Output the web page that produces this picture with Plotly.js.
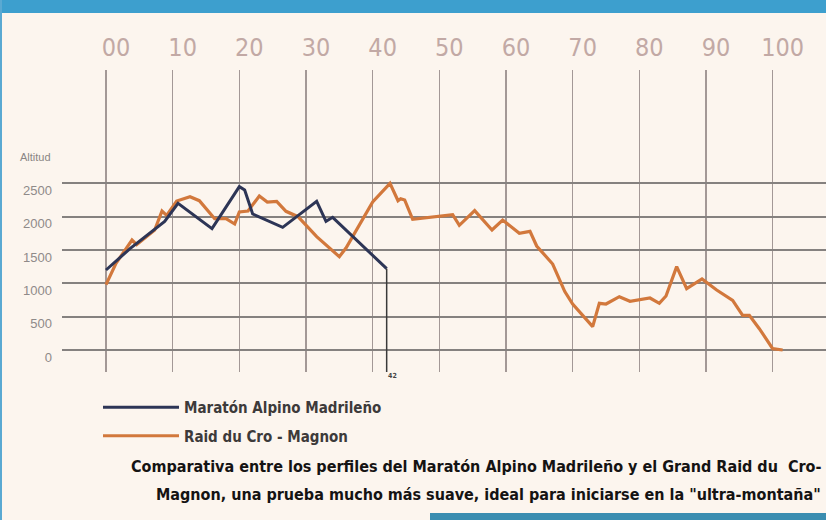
<!DOCTYPE html>
<html>
<head>
<meta charset="utf-8">
<script src="https://cdn.plot.ly/plotly-3.0.1.min.js"></script>
<style>
  html, body { margin: 0; padding: 0; background: #fcf5ee; }
  #chart { width: 826px; height: 520px; }
</style>
</head>
<body>
<div id="chart"></div>
<script>
// ---- data ----
const kmTicks = [0, 10, 20, 30, 40, 50, 60, 70, 80, 90, 100];
const kmTickLabels = ["00", "10", "20", "30", "40", "50", "60", "70", "80", "90", "100"];
const altTicks = [0, 500, 1000, 1500, 2000, 2500];
const altTickLabels = ["0", "500", "1000", "1500", "2000", "2500"];

const marathonName = "Maratón Alpino Madrileño";
const marathonKm  = [0, 3.6, 8.8, 10.8, 15.9, 20, 20.8, 22, 26.5, 31.6, 33, 34, 42.1];
const marathonAlt = [1200, 1520, 1930, 2200, 1820, 2450, 2400, 2040, 1840, 2230, 1930, 1990, 1220];

const raidName = "Raid du Cro - Magnon";
const raidKm  = [0, 1.5, 3.9, 4.6, 7.3, 8.4, 9.1, 10.6, 12.6, 14,
                 16.3, 18, 19.3, 20, 21.3, 23, 24.2, 25.6, 27, 28.8,
                 31.6, 35, 36, 40, 42.6, 43.8, 44.2, 44.8, 46, 52,
                 53, 55.3, 57.9, 59.5, 62, 63.6, 64.6, 67, 68.8, 70,
                 73, 74, 75, 77, 78.6, 81.6, 83, 84, 85.6, 87.1,
                 89.4, 91.6, 94, 95.5, 96.5, 98, 100, 101.5];
const raidAlt = [980, 1300, 1650, 1580, 1800, 2085, 2020, 2235, 2300, 2240,
                 1970, 1970, 1890, 2070, 2085, 2310, 2220, 2230, 2080, 2000,
                 1700, 1400, 1530, 2220, 2500, 2240, 2270, 2250, 1960, 2030,
                 1870, 2090, 1800, 1950, 1750, 1780, 1560, 1290, 880, 690,
                 350, 700, 690, 800, 730, 780, 700, 810, 1250, 920,
                 1065, 900, 745, 520, 520, 320, 20, 0];

const captionLine1 = "Comparativa entre los perfiles del Maratón Alpino Madrileño y el Grand Raid du  Cro-";
const captionLine2 = "Magnon, una prueba mucho más suave, ideal para iniciarse en la \"ultra-montaña\"";
const yAxisLabel = "Altitud";
const finishLabel = "42";

// ---- figure ----
const W = 826, H = 520;
const M = {l: 62, r: 0, t: 70, b: 148};
const plotW = W - M.l - M.r, plotH = H - M.t - M.b;
const px = x => (x - M.l) / plotW;          // pixel -> paper x
const py = y => (H - M.b - y) / plotH;      // pixel -> paper y

const yRange = [-330, 4200];
const xRange = [-6.6, 108];

const narrow = "'Liberation Sans Narrow', 'Arial Narrow', 'DejaVu Sans Condensed', sans-serif";

const lastKm = marathonKm[marathonKm.length - 1];
const lastAlt = marathonAlt[marathonAlt.length - 1];

const traces = [
  {
    x: raidKm, y: raidAlt, name: raidName, type: "scatter", mode: "lines",
    line: {color: "#d2783c", width: 3.2}, legendrank: 2, legendgroup: "b"
  },
  {
    x: marathonKm, y: marathonAlt, name: marathonName, type: "scatter", mode: "lines",
    line: {color: "#2d3556", width: 3}, legendrank: 1, legendgroup: "a"
  },
  {
    x: [lastKm, lastKm], y: [lastAlt, yRange[0]], type: "scatter", mode: "lines",
    line: {color: "#3a3a3a", width: 1.5}, showlegend: false, hoverinfo: "skip"
  }
];

const layout = {
  width: W, height: H,
  margin: M,
  paper_bgcolor: "#fcf5ee",
  plot_bgcolor: "#fcf5ee",
  font: {family: narrow},
  showlegend: true,
  legend: {
    x: px(98), y: py(391), xanchor: "left", yanchor: "top",
    bgcolor: "rgba(0,0,0,0)", borderwidth: 0,
    itemwidth: 76, tracegroupgap: 6,
    font: {family: narrow, size: 15, color: "#3d3a3a", weight: "bold"}
  },
  xaxis: {
    range: xRange, side: "top",
    tickvals: kmTicks, ticktext: kmTickLabels,
    showgrid: true, gridcolor: "#a39896", gridwidth: 1.5,
    zeroline: false, showline: false, ticks: "",
    tickfont: {family: narrow, size: 25, color: "#c2a9a5"},
    ticklabelshift: 10, ticklabelstandoff: 8,
    fixedrange: true
  },
  yaxis: {
    range: yRange,
    tickvals: altTicks, ticktext: altTickLabels,
    showgrid: true, gridcolor: "#85817f", gridwidth: 2,
    zeroline: false, showline: false, ticks: "",
    tickfont: {family: "'Liberation Sans', Arial, sans-serif", size: 13, color: "#8f8a89"},
    ticklabelshift: 7, ticklabelstandoff: 9,
    fixedrange: true
  },
  shapes: [
    {type: "rect", xref: "paper", yref: "paper", x0: px(0), x1: px(W), y0: py(13), y1: py(0),
     fillcolor: "#3d9fce", line: {width: 0}, layer: "above"},
    {type: "rect", xref: "paper", yref: "paper", x0: px(0), x1: px(2), y0: py(H), y1: py(0),
     fillcolor: "#5aa9d2", line: {width: 0}, layer: "above"},
    {type: "rect", xref: "paper", yref: "paper", x0: px(430), x1: px(W), y0: py(H), y1: py(513),
     fillcolor: "#3b8db0", line: {width: 0}, layer: "above"}
  ],
  annotations: [
    {text: yAxisLabel, xref: "paper", yref: "paper", x: px(53), y: py(157),
     xanchor: "right", yanchor: "middle", showarrow: false,
     font: {family: "'Liberation Sans', Arial, sans-serif", size: 11, color: "#8a8584"}},
    {text: finishLabel, xref: "x", yref: "paper", x: lastKm + 0.8, y: py(376),
     xanchor: "center", yanchor: "middle", showarrow: false,
     font: {family: narrow, size: 7, color: "#444", weight: "bold"}},
    {text: captionLine1, xref: "paper", yref: "paper", x: px(823), y: py(466),
     xanchor: "right", yanchor: "middle", showarrow: false,
     font: {family: narrow, size: 16, color: "#151313", weight: "bold"}},
    {text: captionLine2, xref: "paper", yref: "paper", x: px(823), y: py(494),
     xanchor: "right", yanchor: "middle", showarrow: false,
     font: {family: narrow, size: 16, color: "#151313", weight: "bold"}}
  ]
};

Plotly.newPlot("chart", traces, layout, {displayModeBar: false, staticPlot: true});
</script>
</body>
</html>
